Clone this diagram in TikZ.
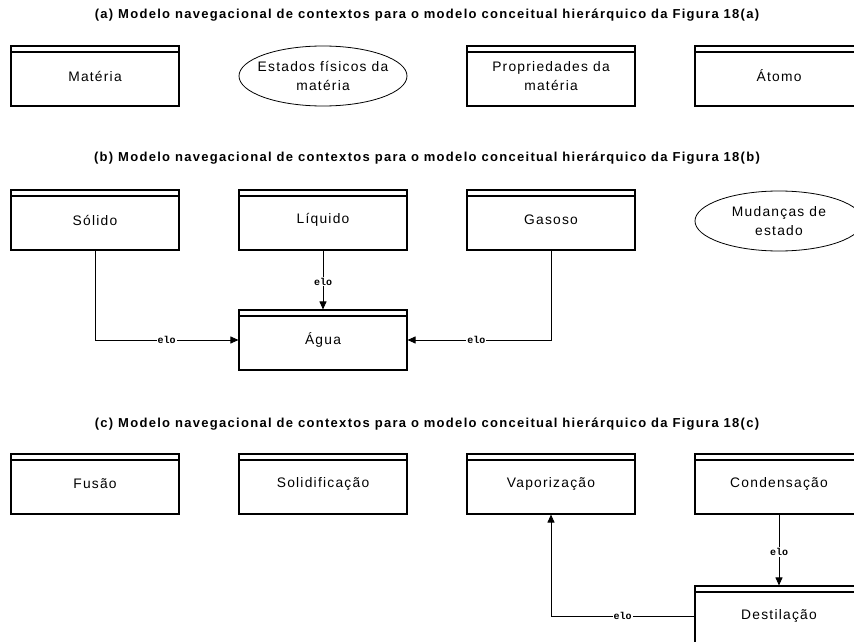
\documentclass[tikz,border=0pt]{standalone}
\usepackage{fontspec}
\setmainfont{Liberation Sans}
\newfontfamily\boxfont[LetterSpace=9]{Liberation Sans}
\newfontfamily\titlefont[LetterSpace=10]{Liberation Sans}
\newfontfamily\elofont{Liberation Mono}
\usetikzlibrary{arrows.meta,shapes.geometric}
\tikzset{
  ctx/.style={draw, line width=1.1pt, minimum width=168pt, minimum height=60pt,
    inner sep=0pt, align=center, font=\boxfont\fontsize{13.8}{19}\selectfont,
    path picture={\draw[line width=1.1pt]
      ([yshift=-6pt]path picture bounding box.north west) --
      ([yshift=-6pt]path picture bounding box.north east);}},
  grp/.style={draw, ellipse, line width=0.8pt, minimum width=168pt, minimum height=60pt,
    inner xsep=-24pt, inner ysep=-8pt, align=center, font=\boxfont\fontsize{13.8}{19}\selectfont},
  heading/.style={font=\titlefont\bfseries\fontsize{13}{15}\selectfont},
  elo/.style={fill=white, inner sep=1pt, font=\elofont\bfseries\fontsize{10}{11}\selectfont},
  link/.style={line width=0.9pt, -{Triangle[length=8pt,width=7pt]}}
}
\begin{document}
\begin{tikzpicture}[x=1pt,y=-1pt]
\useasboundingbox (0,0) rectangle (854,642);
\clip (0,0) rectangle (854,642);

% (a)
\node[heading] (ta) at (427,15) {(a) Modelo navegacional de contextos para o modelo conceitual hierárquico da Figura 18(a)};
\node[ctx] (materia) at (95,76) {Matéria};
\node[grp] (estados) at (323,76) {Estados físicos da\\matéria};
\node[ctx] (prop) at (551,76) {Propriedades da\\matéria};
\node[ctx] (atomo) at (779,76) {Átomo};

% (b)
\node[heading] (tb) at (427,158) {(b) Modelo navegacional de contextos para o modelo conceitual hierárquico da Figura 18(b)};
\node[ctx] (solido) at (95,220) {Sólido};
\node[ctx] (liquido) at (323,220) {Líquido};
\node[ctx] (gasoso) at (551,220) {Gasoso};
\node[grp] (mudancas) at (779,221) {Mudanças de\\estado};
\node[ctx] (agua) at (323,340) {Água};

\draw[link] (solido.south) |- node[elo, pos=0.75] {elo} (agua.west);
\draw[link] (liquido.south) -- node[elo, pos=0.53] {elo} (agua.north);
\draw[link] (gasoso.south) |- node[elo, pos=0.76] {elo} (agua.east);

% (c)
\node[heading] (tc) at (427,424) {(c) Modelo navegacional de contextos para o modelo conceitual hierárquico da Figura 18(c)};
\node[ctx] (fusao) at (95,484) {Fusão};
\node[ctx] (solidif) at (323,484) {Solidificação};
\node[ctx] (vapor) at (551,484) {Vaporização};
\node[ctx] (conden) at (779,484) {Condensação};
\node[ctx] (destil) at (779,616) {Destilação};

\draw[link] (conden.south) -- node[elo, pos=0.53] {elo} (destil.north);
\draw[link] (destil.west) -| node[elo, pos=0.25] {elo} (vapor.south);
\end{tikzpicture}
\end{document}
